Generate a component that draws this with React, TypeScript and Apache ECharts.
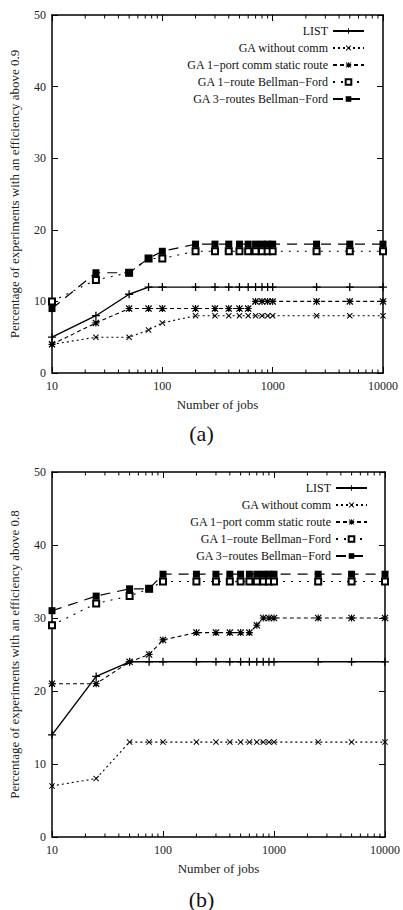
import React, { useEffect, useRef } from "react";
import * as echarts from "echarts";

// Shared x values (number of jobs)
const jobs = [10, 25, 50, 75, 100, 200, 300, 400, 500, 600, 700, 800, 900, 1000, 2500, 5000, 10000];

const seriesNames = [
  "LIST",
  "GA without comm",
  "GA 1−port comm static route",
  "GA 1−route Bellman−Ford",
  "GA 3−routes Bellman−Ford",
];

// (a) efficiency above 0.9
const listA = [5, 8, 11, 12, 12, 12, 12, 12, 12, 12, 12, 12, 12, 12, 12, 12, 12];
const noCommA = [4, 5, 5, 6, 7, 8, 8, 8, 8, 8, 8, 8, 8, 8, 8, 8, 8];
const onePortA = [4, 7, 9, 9, 9, 9, 9, 9, 9, 9, 10, 10, 10, 10, 10, 10, 10];
const oneRouteA = [10, 13, 14, 16, 16, 17, 17, 17, 17, 17, 17, 17, 17, 17, 17, 17, 17];
const threeRoutesA = [9, 14, 14, 16, 17, 18, 18, 18, 18, 18, 18, 18, 18, 18, 18, 18, 18];

// (b) efficiency above 0.8
const listB = [14, 22, 24, 24, 24, 24, 24, 24, 24, 24, 24, 24, 24, 24, 24, 24, 24];
const noCommB = [7, 8, 13, 13, 13, 13, 13, 13, 13, 13, 13, 13, 13, 13, 13, 13, 13];
const onePortB = [21, 21, 24, 25, 27, 28, 28, 28, 28, 28, 29, 30, 30, 30, 30, 30, 30];
const oneRouteB = [29, 32, 33, 34, 35, 35, 35, 35, 35, 35, 35, 35, 35, 35, 35, 35, 35];
const threeRoutesB = [31, 33, 34, 34, 36, 36, 36, 36, 36, 36, 36, 36, 36, 36, 36, 36, 36];

// Axis ticks
const minorXTicks = [
  20, 30, 40, 50, 60, 70, 80, 90,
  200, 300, 400, 500, 600, 700, 800, 900,
  2000, 3000, 4000, 5000, 6000, 7000, 8000, 9000,
];

const SERIF = "Liberation Serif";

const PLUS = "path://M4.2,0H5.8V4.2H10V5.8H5.8V10H4.2V5.8H0V4.2H4.2Z";
const CROSS =
  "path://M0,1.2L1.2,0L5,3.8L8.8,0L10,1.2L6.2,5L10,8.8L8.8,10L5,6.2L1.2,10L0,8.8L3.8,5Z";
const STAR =
  "path://M4.2,0H5.8V4.2H10V5.8H5.8V10H4.2V5.8H0V4.2H4.2Z M0,1.2L1.2,0L5,3.8L8.8,0L10,1.2L6.2,5L10,8.8L8.8,10L5,6.2L1.2,10L0,8.8L3.8,5Z";

const styles = [
  { symbol: PLUS, symbolSize: 8, dash: "solid" as any, width: 1.4 },
  { symbol: CROSS, symbolSize: 6, dash: [2, 3], width: 1.1 },
  { symbol: STAR, symbolSize: 7, dash: [4, 3], width: 1.1 },
  { symbol: "emptyRect", symbolSize: 6, dash: [2, 6], width: 1.1 },
  { symbol: "rect", symbolSize: 7, dash: [10, 7], width: 1.2 },
];

function App() {
  const ref = useRef<HTMLDivElement>(null);

  useEffect(() => {
    document.body.style.margin = "0";
    if (!ref.current) return;
    const chart = echarts.init(ref.current, null, { renderer: "svg" });

    const groups = [
      [listA, noCommA, onePortA, oneRouteA, threeRoutesA],
      [listB, noCommB, onePortB, oneRouteB, threeRoutesB],
    ];

    const grids = [
      { left: 51, right: 20, top: 15, height: 358 },
      { left: 48, right: 16, top: 472, height: 365 },
    ];

    const yTitles = [
      "Percentage of experiments with an efficiency above 0.9",
      "Percentage of experiments with an efficiency above 0.8",
    ];

    const axisLine = { show: true, onZero: false, lineStyle: { color: "#000", width: 1.5 } };
    const tick = { show: true, inside: true, length: 6, lineStyle: { color: "#000", width: 1 } };
    const labelStyle = { fontFamily: SERIF, fontSize: 12, color: "#222" };

    const xAxis: any[] = [];
    const yAxis: any[] = [];
    const series: any[] = [];

    groups.forEach((grp, g) => {
      xAxis.push({
        gridIndex: g,
        type: "log",
        logBase: 10,
        min: 10,
        max: 10000,
        position: "bottom",
        axisLine,
        axisTick: tick,
        axisLabel: { ...labelStyle, margin: 7, formatter: (v: number) => String(Math.round(v)) },
        splitLine: { show: false },
        name: "Number of jobs",
        nameLocation: "middle",
        nameGap: 25,
        nameTextStyle: { fontFamily: SERIF, fontSize: 13, color: "#222" },
      });
      xAxis.push({
        gridIndex: g,
        type: "log",
        logBase: 10,
        min: 10,
        max: 10000,
        position: "top",
        axisLine,
        axisTick: tick,
        axisLabel: { show: false },
        splitLine: { show: false },
      });
      yAxis.push({
        gridIndex: g,
        type: "value",
        min: 0,
        max: 50,
        interval: 10,
        position: "left",
        axisLine,
        axisTick: tick,
        axisLabel: { ...labelStyle, margin: 6 },
        splitLine: { show: false },
        name: yTitles[g],
        nameLocation: "middle",
        nameGap: 31,
        nameTextStyle: { fontFamily: SERIF, fontSize: 13, color: "#222" },
      });
      yAxis.push({
        gridIndex: g,
        type: "value",
        min: 0,
        max: 50,
        interval: 10,
        position: "right",
        axisLine,
        axisTick: tick,
        axisLabel: { show: false },
        splitLine: { show: false },
      });

      grp.forEach((vals, i) => {
        const s = styles[i];
        series.push({
          type: "line",
          name: seriesNames[i],
          xAxisIndex: g * 2,
          yAxisIndex: g * 2,
          data: jobs.map((j, k) => [j, vals[k]]),
          symbol: s.symbol,
          symbolSize: s.symbolSize,
          symbolKeepAspect: true,
          showAllSymbol: true,
          itemStyle: { color: "#000", borderColor: "#000", borderWidth: i === 3 ? 1.2 : 0 },
          lineStyle: { color: "#000", width: s.width, type: s.dash },
          z: 2 + i,
          clip: false,
        });
      });

      // minor log ticks on bottom and top
      series.push({
        type: "custom",
        xAxisIndex: g * 2,
        yAxisIndex: g * 2,
        data: minorXTicks.map((v) => [v, 0]),
        silent: true,
        clip: false,
        z: 10,
        renderItem: (params: any, api: any) => {
          const v = api.value(0);
          const b = api.coord([v, 0]);
          const t = api.coord([v, 50]);
          return {
            type: "group",
            children: [
              { type: "line", shape: { x1: b[0], y1: b[1], x2: b[0], y2: b[1] - 3.5 }, style: { stroke: "#000", lineWidth: 1 } },
              { type: "line", shape: { x1: t[0], y1: t[1], x2: t[0], y2: t[1] + 3.5 }, style: { stroke: "#000", lineWidth: 1 } },
            ],
          };
        },
      });
    });

    const legendBase = {
      data: seriesNames,
      orient: "vertical",
      align: "right",
      itemWidth: 31,
      itemHeight: 7,
      itemGap: 5,
      selectedMode: false,
      textStyle: { fontFamily: SERIF, fontSize: 12, color: "#111" },
    };

    chart.setOption({
      animation: false,
      backgroundColor: "#fff",
      grid: grids,
      xAxis,
      yAxis,
      series,
      legend: [
        { ...legendBase, right: 33, top: 20 },
        { ...legendBase, right: 30, top: 477 },
      ],
      graphic: [
        {
          type: "text",
          left: "center",
          top: 422,
          style: { text: "(a)", fontFamily: SERIF, fontSize: 22, fill: "#111" },
        },
        {
          type: "text",
          left: "center",
          top: 888,
          style: { text: "(b)", fontFamily: SERIF, fontSize: 22, fill: "#111" },
        },
      ],
    });

    return () => chart.dispose();
  }, []);

  return <div ref={ref} style={{ width: 403, height: 910 }} />;
}

export default App;
